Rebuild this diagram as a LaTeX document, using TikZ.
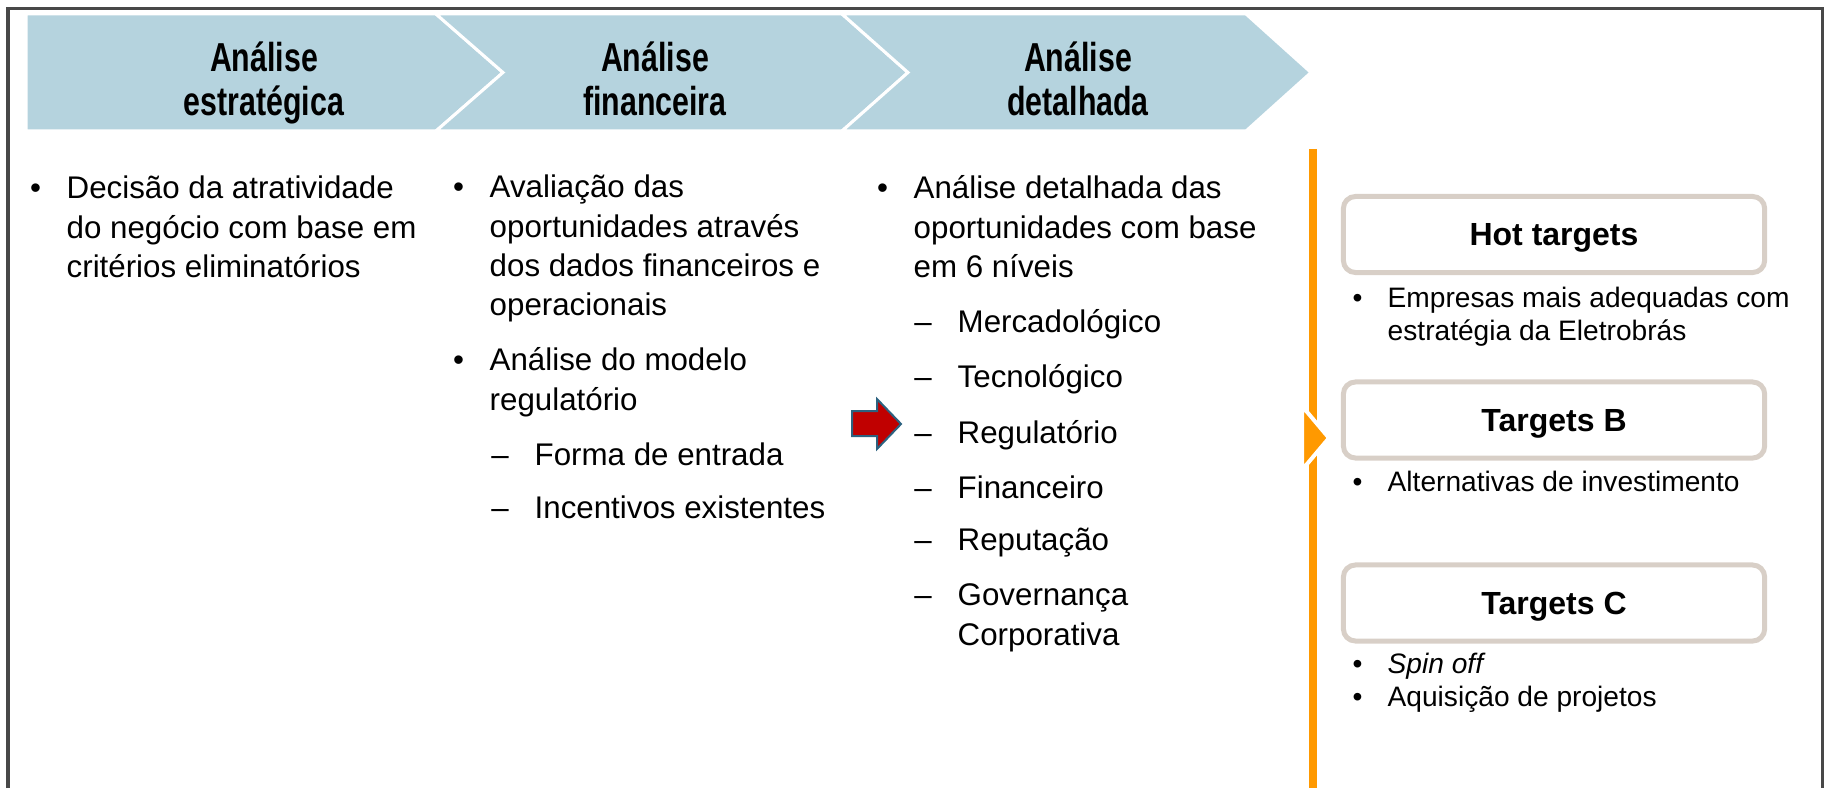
\documentclass[tikz,border=0pt]{standalone}
\usepackage{fontspec}
\setmainfont{Liberation Sans}
\newfontfamily\headfont[FakeStretch=0.75]{Liberation Sans}
\usetikzlibrary{positioning}
\definecolor{chevblue}{RGB}{181,211,222}
\definecolor{frameg}{RGB}{72,72,72}
\definecolor{phaseorange}{RGB}{255,153,0}
\definecolor{boxtaupe}{RGB}{216,207,199}
\definecolor{arrowred}{RGB}{192,0,0}
\definecolor{arrowedge}{RGB}{44,98,128}
\tikzset{
    chevron/.style={fill=chevblue, draw=white, line width=0.03cm},
    headtxt/.style={anchor=north, inner sep=0pt, align=center,
        font=\headfont\bfseries\fontsize{11.5}{12.5}\selectfont},
    coltxt/.style={anchor=north west, inner sep=0pt, align=left,
        font=\fontsize{8.9}{11.2}\selectfont},
    sidetxt/.style={anchor=north west, inner sep=0pt, align=left,
        font=\fontsize{8}{9.4}\selectfont},
    targetbox/.style={draw=boxtaupe, line width=0.05cm, rounded corners=0.12cm,
        minimum width=4.21cm, minimum height=0.76cm, inner sep=0pt, text depth=0pt,
        font=\bfseries\fontsize{9.1}{10}\selectfont}
}
% first-line strut: the baseline sits 3mm under the node top
\newcommand\fl{\rule{0pt}{3mm}}
\newcommand\bul{\llap{\textbullet\hspace{7.3pt}}}
\newcommand\dsh{\llap{–\hspace{7.4pt}}}
\newcommand\sbul{\llap{\textbullet\hspace{7.2pt}}}
\begin{document}
\begin{tikzpicture}[x=0.01cm, y=-0.01cm]
    \useasboundingbox (0,0) rectangle (1825,788);
    \def \tp {14}
    \def \bt {131}
    \def \md {72.5}
    % frame
    \draw[frameg, line width=0.03cm] (8,788) -- (8,9) -- (1822,9) -- (1822,788);
    % phases
    \draw[chevron] (26,\tp) -- (436,\tp) -- (503,\md) -- (436,\bt) -- (26,\bt) -- cycle;
    \draw[chevron] (436,\tp) -- (842,\tp) -- (908,\md) -- (842,\bt) -- (436,\bt) -- (503,\md) -- cycle;
    \draw[chevron] (842,\tp) -- (1246,\tp) -- (1311,\md) -- (1246,\bt) -- (842,\bt) -- (908,\md) -- cycle;
    \node[headtxt] (hd1) at (264,41) {\fl Análise\\estratégica};
    \node[headtxt] (hd2) at (655,41) {\fl Análise\\financeira};
    \node[headtxt] (hd3) at (1078,41) {\fl Análise\\detalhada};
    % column texts
    \node[coltxt] (c1) at (66,168) {\fl\bul Decisão da atratividade\\do negócio com base em\\critérios eliminatórios};
    \node[coltxt] (c2a) at (489,167) {\fl\bul Avaliação das\\oportunidades através\\dos dados financeiros e\\operacionais};
    \node[coltxt] (c2b) at (489,340) {\fl\bul Análise do modelo\\regulatório};
    \node[coltxt] (c2c) at (534,435) {\fl\dsh Forma de entrada};
    \node[coltxt] (c2d) at (534,488) {\fl\dsh Incentivos existentes};
    \node[coltxt] (c3a) at (913,168) {\fl\bul Análise detalhada das\\oportunidades com base\\em 6 níveis};
    \node[coltxt] (c3b) at (957,302) {\fl\dsh Mercadológico};
    \node[coltxt] (c3c) at (957,357) {\fl\dsh Tecnológico};
    \node[coltxt] (c3d) at (957,413) {\fl\dsh Regulatório};
    \node[coltxt] (c3e) at (957,468) {\fl\dsh Financeiro};
    \node[coltxt] (c3f) at (957,520) {\fl\dsh Reputação};
    \node[coltxt] (c3g) at (957,575) {\fl\dsh Governança\\Corporativa};
    % red pointer
    \draw[fill=arrowred, draw=arrowedge, line width=0.02cm] (852,411) -- (877,411) -- (877,399) -- (901,424) -- (877,449) -- (877,436) -- (852,436) -- cycle;
    % orange divider
    \draw[phaseorange, line width=0.08cm] (1313,149) -- (1313,788);
    \draw[fill=phaseorange, draw=white, line width=0.04cm] (1302,406) -- (1329,438) -- (1302,470) -- cycle;
    % targets
    \node[targetbox] (hot) at (1554,234.5) {Hot targets};
    \node[targetbox] (tgb) at (1554,420) {Targets B};
    \node[targetbox] (tgc) at (1554,603) {Targets C};
    \node[sidetxt] (hotd) at (1387,277) {\fl\sbul Empresas mais adequadas com\\estratégia da Eletrobrás};
    \node[sidetxt] (tgbd) at (1387,461) {\fl\sbul Alternativas de investimento};
    \node[sidetxt] (tgcd) at (1387,643) {\fl\sbul\textit{Spin off}\\\sbul Aquisição de projetos};
\end{tikzpicture}
\end{document}
